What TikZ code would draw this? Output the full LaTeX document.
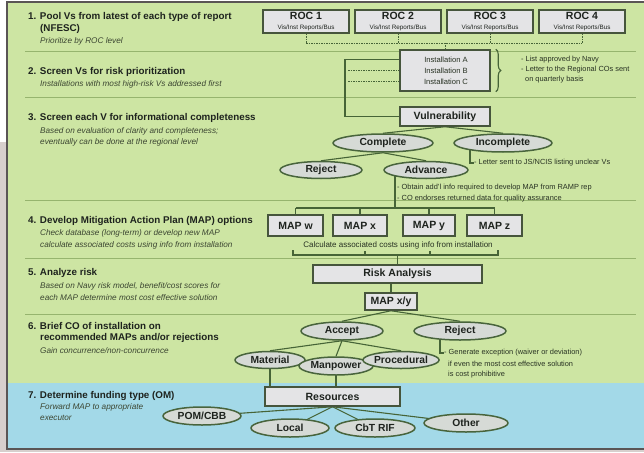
\documentclass[tikz,border=0pt]{standalone}
\usepackage{fontspec}
\setmainfont{Liberation Sans}
\usetikzlibrary{shapes.geometric,decorations.pathreplacing}
\pgfdeclarelayer{back}
\pgfdeclarelayer{bg}
\pgfsetlayers{back,bg,main}
\definecolor{bggreen}{RGB}{205,229,163}
\definecolor{bgblue}{RGB}{163,217,232}
\definecolor{sepcol}{RGB}{150,180,110}
\definecolor{boxfill}{RGB}{228,228,230}
\definecolor{boxline}{RGB}{70,85,60}
\definecolor{ovalfill}{RGB}{214,218,214}
\definecolor{ovalline}{RGB}{72,100,60}
\definecolor{linecol}{RGB}{70,100,55}
\definecolor{titlecol}{RGB}{30,35,30}
\definecolor{subcol}{RGB}{60,70,50}
\definecolor{notecol}{RGB}{40,50,35}
\definecolor{framegrey}{RGB}{90,85,85}
\definecolor{leftgrey}{RGB}{215,207,205}
\begin{document}
\begin{tikzpicture}[x=1pt,y=-1pt,
  conn/.style={draw=linecol,line width=1.1pt},
  dashline/.style={draw=linecol,line width=0.8pt,dash pattern=on 1.5pt off 1pt},
  sepline/.style={draw=sepcol,line width=0.8pt},
  box/.style={rectangle,draw=boxline,fill=boxfill,line width=1.5pt,inner sep=0pt,text=titlecol,font=\fontsize{10.5}{11}\selectfont\bfseries},
  oval/.style={ellipse,draw=ovalline,fill=ovalfill,line width=1.5pt,inner sep=0pt,text=titlecol,font=\fontsize{10.3}{11}\selectfont\bfseries},
  title/.style={anchor=west,inner sep=0pt,text=titlecol,font=\fontsize{9.8}{11}\selectfont\bfseries},
  sub/.style={anchor=west,inner sep=0pt,text=subcol,font=\fontsize{8.2}{9}\selectfont\itshape},
  note/.style={anchor=west,inner sep=0pt,text=notecol,font=\fontsize{7.4}{8}\selectfont},
  inst/.style={inner sep=0pt,text=notecol,font=\fontsize{7.6}{8}\selectfont},
  calc/.style={inner sep=0pt,text=notecol,font=\fontsize{8}{9}\selectfont}
]
\useasboundingbox (0,0) rectangle (644,452);
\begin{pgfonlayer}{back}
\fill[white] (0,0) rectangle (644,452);
\fill[leftgrey] (0,142) rectangle (7,452);
\fill[leftgrey] (0,449) rectangle (644,452);
\fill[bggreen] (7,2) rectangle (644,383);
\fill[bgblue] (7,383) rectangle (644,449);
\draw[framegrey,line width=1.2pt] (644,2) -- (7,2) -- (7,449) -- (644,449);
\foreach \yy in {51,97,200,258,314} \draw[sepline] (25,\yy) -- (636,\yy);
\end{pgfonlayer}

% left texts
\node[title] (t1) at (28,17) {1. Pool Vs from latest of each type of report};
\node[title] (t1b) at (40,29) {(NFESC)};
\node[sub] (s1) at (40,41) {Prioritize by ROC level};
\node[title] (t2) at (28,72) {2. Screen Vs for risk prioritization};
\node[sub] (s2) at (40,84) {Installations with most high-risk Vs addressed first};
\node[title] (t3) at (28,118) {3. Screen each V for informational completeness};
\node[sub] (s3a) at (40,131) {Based on evaluation of clarity and completeness;};
\node[sub] (s3b) at (40,142) {eventually can be done at the regional level};
\node[title] (t4) at (28,221) {4. Develop Mitigation Action Plan (MAP) options};
\node[sub] (s4a) at (40,233) {Check database (long-term) or develop new MAP};
\node[sub] (s4b) at (40,245) {calculate associated costs using info from installation};
\node[title] (t5) at (28,273) {5. Analyze risk};
\node[sub] (s5a) at (40,286) {Based on Navy risk model, benefit/cost scores for};
\node[sub] (s5b) at (40,298) {each MAP determine most cost effective solution};
\node[title] (t6) at (28,326) {6. Brief CO of installation on};
\node[title] (t6b) at (40,338) {recommended MAPs and/or rejections};
\node[sub] (s6) at (40,351) {Gain concurrence/non-concurrence};
\node[title] (t7) at (28,396) {7. Determine funding type (OM)};
\node[sub] (s7a) at (40,407) {Forward MAP to appropriate};
\node[sub] (s7b) at (40,418) {executor};

% ROC boxes
\foreach \n/\xx in {1/306,2/398,3/490,4/582}{
  \node[box,minimum width=86pt,minimum height=23pt,align=center] (roc\n) at (\xx,21.5)
   {ROC \n\\[-1.5pt]{\fontsize{6.3}{6.5}\selectfont\mdseries Vis/Inst Reports/Bus}};
}
% installation box
\node[box,minimum width=90pt,minimum height=41pt] (inst) at (445,70.5) {};
\node[inst] (instA) at (446,59.5) {Installation A};
\node[inst] (instB) at (446,70.5) {Installation B};
\node[inst] (instC) at (446,81.5) {Installation C};
\coordinate (hub) at (445,43);
\begin{pgfonlayer}{bg}
\foreach \n in {1,2,3,4} \draw[dashline] (roc\n.south) -- (roc\n.south |- hub);
\draw[dashline] (roc1.south |- hub) -- (roc4.south |- hub);
\draw[dashline] (hub) -- (inst.north);
\end{pgfonlayer}
\draw[conn,decorate,decoration={brace,amplitude=5pt}] ([xshift=5pt]inst.north east) -- ([xshift=5pt]inst.south east);
\node[note] (n1) at (521,59.5) {- List approved by Navy};
\node[note] (n2) at (521,69.5) {- Letter to the Regional COs sent};
\node[note] (n3) at (525,79.5) {on quarterly basis};

% vulnerability
\node[box,minimum width=90pt,minimum height=19pt] (vul) at (445,116.5) {Vulnerability};
\coordinate (lc) at (345,59.5);
\draw[conn] (inst.west |- instA) -- (lc) -- (lc |- vul) -- (vul.west);
\draw[dashline] ([xshift=3pt]lc |- instB) -- (inst.west |- instB);
\draw[dashline] ([xshift=3pt]lc |- instC) -- (inst.west |- instC);

% completeness
\node[oval,minimum width=100pt,minimum height=18pt] (comp) at (383,143) {Complete};
\node[oval,minimum width=98pt,minimum height=18pt] (incomp) at (503,143) {Incomplete};
\node[oval,minimum width=82pt,minimum height=17pt] (rej1) at (321,170) {Reject};
\node[oval,minimum width=84pt,minimum height=17pt] (adv) at (426,170) {Advance};
\begin{pgfonlayer}{bg}
\draw[conn] (vul.south) -- (comp.north);
\draw[conn] (vul.south) -- (incomp.north);
\draw[conn] (comp.south) -- (rej1.north);
\draw[conn] (comp.south) -- (adv.north);
\end{pgfonlayer}
\node[note] (incnote) at (474,163) {- Letter sent to JS/NCIS listing unclear Vs};
\coordinate (incj) at (470,163);
\begin{pgfonlayer}{bg}
\draw[conn] (incj |- incomp.center) -- (incj) -- (incnote.west);
\end{pgfonlayer}

% MAP options
\coordinate (advj) at (395,208);
\node[note] (an1) at (397,188) {- Obtain add'l info required to develop MAP from RAMP rep};
\node[note] (an2) at (397,199) {- CO endorses returned data for quality assurance};
\node[box,minimum width=55pt,minimum height=21pt] (mapw) at (295.5,225.5) {MAP w};
\node[box,minimum width=54pt,minimum height=21pt] (mapx) at (360,225.5) {MAP x};
\node[box,minimum width=52pt,minimum height=21pt] (mapy) at (429,225.5) {MAP y};
\node[box,minimum width=55pt,minimum height=21pt] (mapz) at (494.5,225.5) {MAP z};
\begin{pgfonlayer}{bg}
\draw[conn] (advj |- adv.center) -- (advj);
\draw[conn] (mapw.north |- advj) -- (mapz.north |- advj);
\foreach \m in {mapw,mapx,mapy,mapz} \draw[conn] (\m.north |- advj) -- (\m.north);
\end{pgfonlayer}
\node[calc] (calc) at (398,245) {Calculate associated costs using info from installation};

% risk analysis
\node[box,minimum width=169pt,minimum height=18pt] (risk) at (397.5,274) {Risk Analysis};
\node[box,minimum width=52pt,minimum height=17pt] (mapxy) at (391,301.5) {MAP x/y};
\coordinate (brl) at (293,255);
\coordinate (brr) at (498,255);
\coordinate (brlt) at (293,250);
\coordinate (brrt) at (498,250);
\coordinate (brt1) at (365,251);
\coordinate (brt2) at (430,251);
\draw[conn] (brlt) -- (brl) -- (brr) -- (brrt);
\draw[conn] (brt1) -- (brt1 |- brl);
\draw[conn] (brt2) -- (brt2 |- brl);
\draw[conn] (risk.north |- brl) -- (risk.north);
\draw[conn] (mapxy.north |- risk.south) -- (mapxy.north);

% brief CO
\node[oval,minimum width=82pt,minimum height=18pt] (acc) at (342,331) {Accept};
\node[oval,minimum width=92pt,minimum height=18pt] (rej2) at (460,331) {Reject};
\node[oval,minimum width=70pt,minimum height=17pt] (mat) at (270,360) {Material};
\node[oval,minimum width=74pt,minimum height=18pt] (man) at (336,366) {Manpower};
\node[oval,minimum width=68pt,minimum height=17pt] (proc) at (401,360) {Procedural};
\begin{pgfonlayer}{bg}
\draw[conn] (mapxy.south) -- (acc.north);
\draw[conn] (mapxy.south) -- (rej2.north);
\draw[conn] (acc.south) -- (mat.north);
\draw[conn] (acc.south) -- (man.north);
\draw[conn] (acc.south) -- (proc.north);
\end{pgfonlayer}
\coordinate (rj) at (440,353);
\node[note] (rn1) at (444,353) {- Generate exception (waiver or deviation)};
\node[note] (rn2) at (448,364) {if even the most cost effective solution};
\node[note] (rn3) at (448,375) {is cost prohibitive};
\begin{pgfonlayer}{bg}
\draw[conn] (rj |- rej2.center) -- (rj) -- (rn1.west);
\end{pgfonlayer}

% funding
\node[box,minimum width=135pt,minimum height=19pt] (res) at (332.5,396.5) {Resources};
\node[oval,minimum width=78pt,minimum height=18pt] (pom) at (202,416) {POM/CBB};
\node[oval,minimum width=78pt,minimum height=18pt] (loc) at (290,428) {Local};
\node[oval,minimum width=80pt,minimum height=18pt] (cbt) at (375,428) {CbT RIF};
\node[oval,minimum width=84pt,minimum height=18pt] (oth) at (466,423) {Other};
\begin{pgfonlayer}{bg}
\draw[conn] (mat.center) -- (mat.center |- res.center);
\draw[conn] (man.center) -- (man.center |- res.center);
\draw[conn] (res.south) -- (pom.center);
\draw[conn] (res.south) -- (loc.center);
\draw[conn] (res.south) -- (cbt.center);
\draw[conn] (res.south) -- (oth.center);
\end{pgfonlayer}
\end{tikzpicture}
\end{document}
